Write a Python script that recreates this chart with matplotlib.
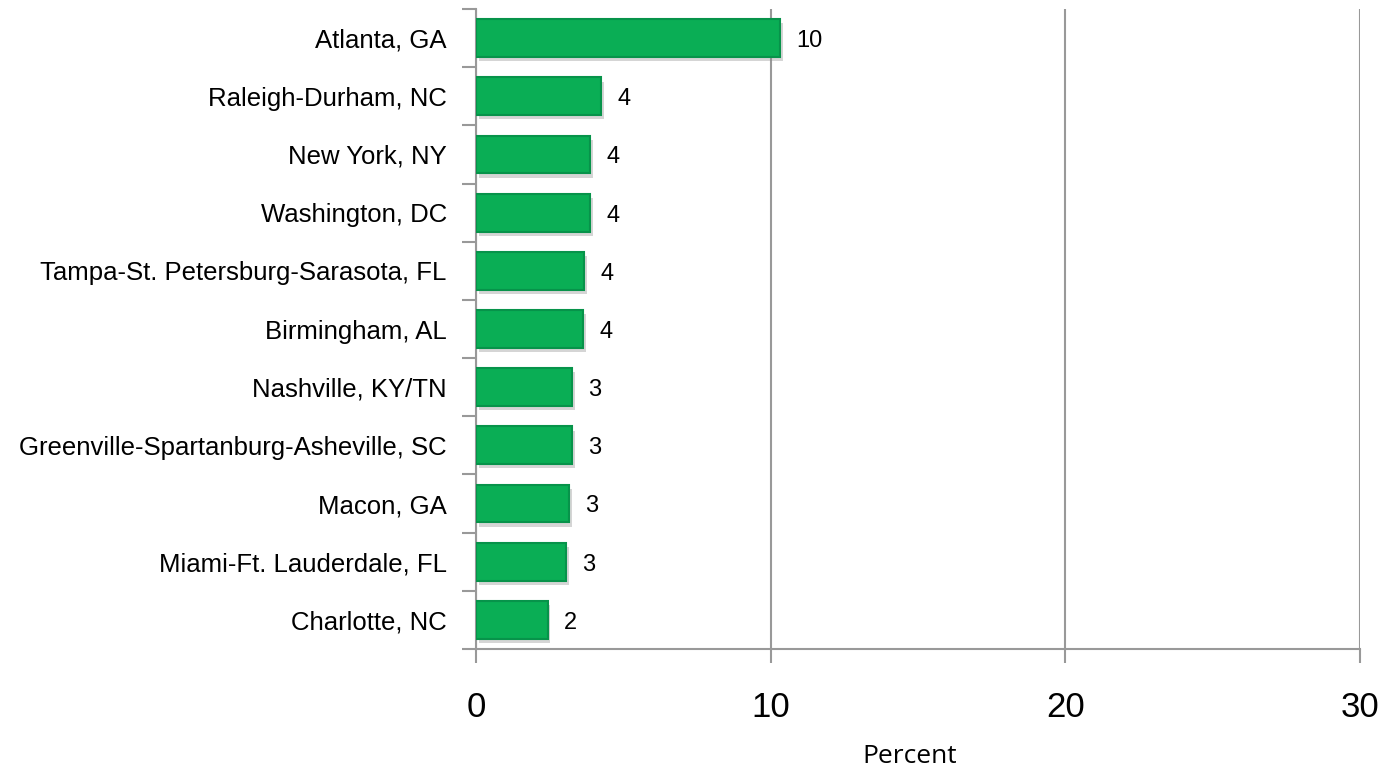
import matplotlib.pyplot as plt
import matplotlib.patheffects as pe
import numpy as np

cities = ['Atlanta, GA', 'Raleigh-Durham, NC', 'New York, NY', 'Washington, DC',
          'Tampa-St. Petersburg-Sarasota, FL', 'Birmingham, AL', 'Nashville, KY/TN',
          'Greenville-Spartanburg-Asheville, SC', 'Macon, GA',
          'Miami-Ft. Lauderdale, FL', 'Charlotte, NC']
percent = [10.33, 4.25, 3.87, 3.87, 3.67, 3.63, 3.26, 3.26, 3.16, 3.05, 2.43]
xticks = [0, 10, 20, 30]

grey = '#999999'
fig = plt.figure(figsize=(13.85, 7.72), dpi=100)
ax = fig.add_axes([0.3437, 0.1593, 0.6383, 0.8290])

y = np.arange(len(cities))
bars = ax.barh(y, percent, height=0.65, color='#0AAE55', edgecolor='#07934a',
               linewidth=1.5, zorder=3)
for b in bars:
    b.set_path_effects([pe.SimplePatchShadow(offset=(2, -3), shadow_rgbFace='#888888', alpha=0.35),
                        pe.Normal()])

for yi, v in zip(y, percent):
    ax.text(v + 0.55, yi + 0.05, f'{v:.0f}', va='center', ha='left', fontsize=17,
            family='Liberation Sans', color='black')

ax.set_xlim(0, 30)
ax.set_ylim(len(cities) - 0.5, -0.5)
ax.set_xticks(xticks)
ax.set_xticklabels([str(t) for t in xticks], fontsize=25, family='Liberation Sans')
ax.set_yticks(y)
ax.set_yticklabels(cities, fontsize=18.5, family='Liberation Sans')
ax.set_yticks(np.arange(-0.5, len(cities)), minor=True)
ax.tick_params(axis='y', which='major', length=0, pad=21)
ax.tick_params(axis='y', which='minor', length=10, width=1.5, color=grey, direction='out')
ax.tick_params(axis='x', length=10, width=1.5, color=grey, direction='out', pad=20)

ax.grid(axis='x', color=grey, linewidth=1.5, zorder=0)
for s in ['top', 'right']:
    ax.spines[s].set_visible(False)
for s in ['left', 'bottom']:
    ax.spines[s].set_color(grey)
    ax.spines[s].set_linewidth(1.5)

fig.text(0.657, 0.004, 'Percent', ha='center', va='bottom', fontsize=19, family='Open Sans')

fig.savefig('out.png', dpi=100)
